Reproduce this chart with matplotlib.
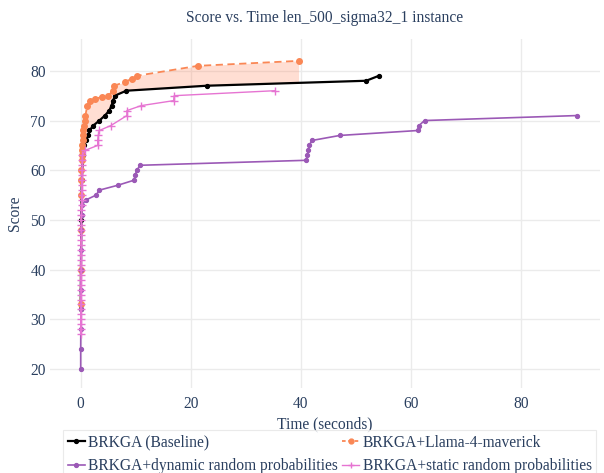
import matplotlib

matplotlib.use("Agg")
import matplotlib.pyplot as plt
from matplotlib.lines import Line2D
import numpy as np

plt.rcParams["font.family"] = ["Liberation Serif", "DejaVu Serif"]

TEXT_COLOR = "#2a3f5f"
GRID_COLOR = "#ebebeb"
FONT_SIZE = 11.2

TITLE = "Score vs. Time len_500_sigma32_1 instance"

# BRKGA (Baseline)
baseline_time = [0.0, 0.05, 0.1, 0.2, 0.4, 0.6,
                 0.9, 1.4, 1.6, 2.3, 3.4, 4.4, 5.2, 5.6, 5.9, 6.2, 8.3,
                 22.9, 51.9, 54.2]
baseline_score = [32, 40, 50, 58, 63, 65,
                  66, 67, 68, 69, 70, 71, 72, 73, 74, 75, 76,
                  77, 78, 79]

# BRKGA+Llama-4-maverick
llama_time = [0.0, 0.02, 0.05, 0.08, 0.1, 0.12, 0.15, 0.2, 0.25, 0.3,
              0.38, 0.45, 0.5, 0.6, 0.75, 0.85, 1.2, 1.7, 2.6, 3.8,
              5.0, 5.9, 6.1, 8.1, 9.3, 10.2, 21.3, 39.6]
llama_score = [33, 40, 48, 55, 58, 60, 62, 63, 64, 65,
               66, 67, 68, 69, 70, 71, 73, 74, 74.4, 74.7,
               75, 76, 77, 77.8, 78.4, 79, 81, 82]

# BRKGA+dynamic random probabilities
dynamic_time = [0.0, 0.0, 0.02, 0.04, 0.06, 0.08, 0.1, 0.12, 0.15, 0.2,
                0.9, 2.8, 3.4, 6.8, 9.7, 9.9, 10.2, 10.8,
                41.0, 41.2, 41.4, 41.5, 42.1, 47.1, 61.4, 61.5, 62.5, 90.2]
dynamic_score = [20, 24, 28, 32, 36, 40, 44, 48, 51, 53,
                 54, 55, 56, 57, 58, 59, 60, 61,
                 62, 63, 64, 65, 66, 67, 68, 69, 70, 71]

# BRKGA+static random probabilities
static_time = [0.0, 0.0, 0.0, 0.0, 0.0, 0.02, 0.02, 0.03, 0.03, 0.04,
               0.04, 0.05, 0.05, 0.06, 0.06, 0.07, 0.07, 0.08, 0.08, 0.09,
               0.1, 0.1, 0.11, 0.12, 0.13, 0.14, 0.15, 0.16, 0.17, 0.18,
               0.19, 0.2, 0.22, 0.24, 0.26, 0.28, 0.3,
               0.8, 3.1, 3.1, 3.2, 3.4, 5.5, 8.4, 8.4, 11.0, 16.9, 17.0, 35.3]
static_score = [27, 28, 29, 30, 31, 32, 33, 34, 35, 36,
                37, 38, 39, 40, 41, 42, 43, 44, 45, 46,
                47, 48, 49, 50, 51, 52, 53, 54, 55, 56,
                57, 58, 59, 60, 61, 62, 63,
                64, 65, 66, 67, 68, 69, 71, 72, 73, 74, 75, 76]

BLACK = "#000000"
ORANGE = "#fa8755"
PURPLE = "#9b59b6"
PINK = "#e674d2"

fig = plt.figure(figsize=(6.04, 4.73), dpi=100)
ax = fig.add_axes([50 / 604, 1 - 388 / 473, 550 / 604, 349 / 473])

# shaded gap between the LLM run and the baseline
t_end = llama_time[-1]
grid_t = np.unique(np.concatenate([
    np.array(llama_time),
    np.array([t for t in baseline_time if t <= t_end]),
]))
upper = np.interp(grid_t, llama_time, llama_score)
lower = np.interp(grid_t, baseline_time, baseline_score)
ax.fill_between(grid_t, lower, upper, color="#ff7f50", alpha=0.25,
                linewidth=0, zorder=1)

ax.plot(baseline_time, baseline_score, color=BLACK, linewidth=1.6,
        marker="o", markersize=2.8, zorder=3)
ax.plot(llama_time, llama_score, color=ORANGE, linewidth=1.3,
        linestyle=(0, (4, 2.5)), marker="o", markersize=4.0, zorder=4)
ax.plot(dynamic_time, dynamic_score, color=PURPLE, linewidth=1.2,
        marker="o", markersize=2.8, zorder=5)
ax.plot(static_time, static_score, color=PINK, linewidth=1.0,
        marker="+", markersize=5.5, markeredgewidth=1.0, zorder=6)

ax.set_xlim(-5.58, 94.4)
ax.set_ylim(16.2, 86.4)
ax.set_xticks([0, 20, 40, 60, 80])
ax.set_yticks([20, 30, 40, 50, 60, 70, 80])
ax.grid(True, color=GRID_COLOR, linewidth=1.0)
ax.set_axisbelow(True)
for side in ax.spines.values():
    side.set_visible(False)
ax.tick_params(axis="both", length=0, labelsize=FONT_SIZE,
               labelcolor=TEXT_COLOR)
ax.tick_params(axis="x", pad=6)
ax.tick_params(axis="y", pad=3)

ax.set_title(TITLE, fontsize=FONT_SIZE, color=TEXT_COLOR, pad=12)
ax.set_xlabel("Time (seconds)", fontsize=FONT_SIZE, color=TEXT_COLOR,
              labelpad=3)
ax.set_ylabel("Score", fontsize=FONT_SIZE, color=TEXT_COLOR, labelpad=5)

legend_handles = [
    Line2D([0], [0], color=BLACK, linewidth=1.6, marker="o", markersize=2.8,
           label="BRKGA (Baseline)"),
    Line2D([0], [0], color=PURPLE, linewidth=1.2, marker="o",
           markersize=2.8, label="BRKGA+dynamic random probabilities"),
    Line2D([0], [0], color=ORANGE, linewidth=1.3, linestyle=(0, (2, 1.5)),
           marker="o", markersize=3.5, label="BRKGA+Llama-4-maverick"),
    Line2D([0], [0], color=PINK, linewidth=1.0, marker="+", markersize=5,
           label="BRKGA+static random probabilities"),
]
leg = fig.legend(
    handles=legend_handles,
    loc="upper left",
    bbox_to_anchor=(63 / 604, 1 - 430 / 473),
    ncol=2,
    fontsize=FONT_SIZE,
    frameon=True,
    fancybox=False,
    handlelength=1.1,
    handletextpad=0.2,
    columnspacing=0.3,
    borderpad=0.3,
    labelspacing=0.5,
    borderaxespad=0,
)
leg.get_frame().set_edgecolor("#e5e5e5")
leg.get_frame().set_linewidth(0.8)
for txt in leg.get_texts():
    txt.set_color(TEXT_COLOR)

fig.savefig("out.png", dpi=100)
plt.close(fig)
